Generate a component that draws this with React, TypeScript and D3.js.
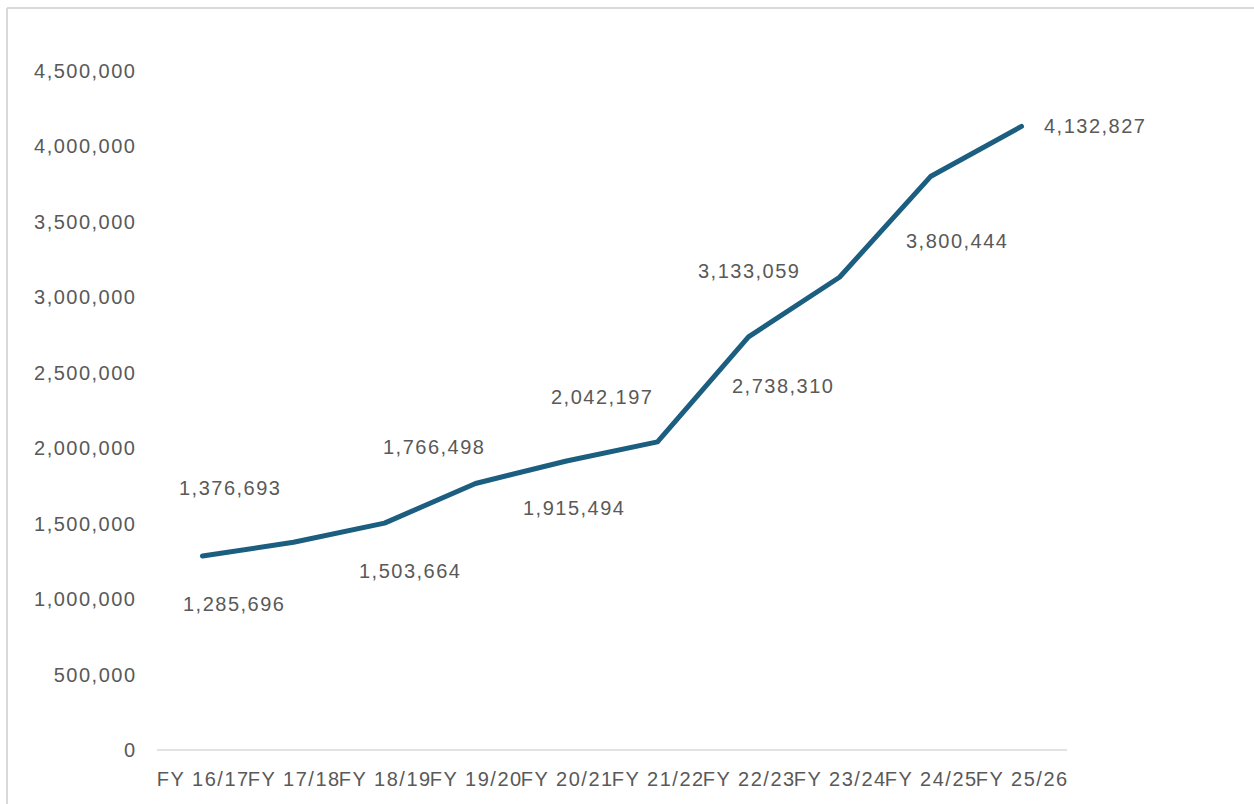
import React from "react";
import * as d3 from "d3";

const categories = ["FY 16/17", "FY 17/18", "FY 18/19", "FY 19/20", "FY 20/21", "FY 21/22", "FY 22/23", "FY 23/24", "FY 24/25", "FY 25/26"];
const values = [1285696, 1376693, 1503664, 1766498, 1915494, 2042197, 2738310, 3133059, 3800444, 4132827];
const yTicks = [0, 500000, 1000000, 1500000, 2000000, 2500000, 3000000, 3500000, 4000000, 4500000];
// label placement offsets (dx, dy) relative to each point
const labelDx = [31, -64, 25, -42, 7, -56, 34, -91, 26, 73];
const labelDy = [48, -54, 48, -36, 47, -45, 49, -6, 64, 0];

const W = 1254;
const H = 804;
const FONT = "'Liberation Sans', Arial, sans-serif";
const TEXT = "#595959";
const FS = 20;
const LS = 1.5;

export default function App() {
  const x = d3.scaleBand<string>().domain(categories).range([157, 1067]);
  const y = d3.scaleLinear().domain([0, 4500000]).range([750, 71]);
  const fmt = d3.format(",");
  const px = (c: string) => (x(c) as number) + x.bandwidth() / 2;
  const line = d3
    .line<number>()
    .x((_, i) => px(categories[i]))
    .y((d) => y(d));

  return (
    <svg width={W} height={H} style={{ position: "absolute", left: 0, top: 0, background: "#fff" }} fontFamily={FONT}>
      <rect x={0} y={0} width={W} height={H} fill="#fff" />
      <line x1={7} y1={8} x2={W} y2={8} stroke="#d9d9d9" strokeWidth={2} />
      <line x1={7} y1={8} x2={7} y2={H} stroke="#d9d9d9" strokeWidth={2} />
      {yTicks.map((t) => (
        <text key={t} x={136.5} y={y(t)} textAnchor="end" dominantBaseline="central" fontSize={FS} fill={TEXT} letterSpacing={LS}>
          {fmt(t)}
        </text>
      ))}
      <line x1={x.range()[0]} x2={x.range()[1]} y1={y(0)} y2={y(0)} stroke="#d9d9d9" strokeWidth={1.5} />
      {categories.map((c) => (
        <text key={c} x={px(c) + LS / 2} y={779} textAnchor="middle" dominantBaseline="central" fontSize={FS} fill={TEXT} letterSpacing={LS}>
          {c}
        </text>
      ))}
      <path d={line(values) || ""} fill="none" stroke="#1b5e80" strokeWidth={5} strokeLinejoin="round" strokeLinecap="round" />
      {values.map((v, i) => (
        <text
          key={i}
          x={px(categories[i]) + labelDx[i] + LS / 2}
          y={y(v) + labelDy[i]}
          textAnchor="middle"
          dominantBaseline="central"
          fontSize={FS}
          fill={TEXT}
          letterSpacing={LS}
        >
          {fmt(v)}
        </text>
      ))}
    </svg>
  );
}
